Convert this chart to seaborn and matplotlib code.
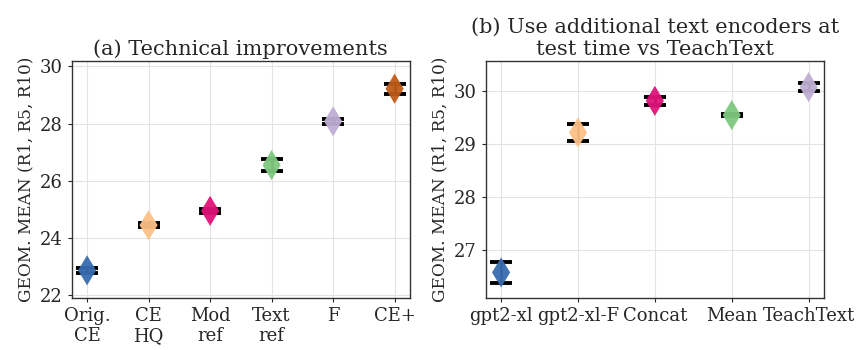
import matplotlib
matplotlib.use("Agg")
import matplotlib.pyplot as plt
import seaborn as sns
import numpy as np

# === Data ===
labels_a = ["Orig.\nCE", "CE\nHQ", "Mod\nref", "Text\nref", "F", "CE+"]
means_a = [22.87, 24.45, 24.95, 26.55, 28.08, 29.22]
errs_a = [0.08, 0.07, 0.06, 0.20, 0.09, 0.17]

labels_b = ["gpt2-xl", "gpt2-xl-F", "Concat", "Mean", "TeachText"]
means_b = [26.57, 29.22, 29.82, 29.55, 30.08]
errs_b = [0.20, 0.17, 0.07, 0.02, 0.08]

colors_a = ["#386cb0", "#fdc086", "#e0137a", "#7fc97f", "#beaed4", "#bf5b17"]
colors_b = ["#386cb0", "#fdc086", "#e0137a", "#7fc97f", "#beaed4"]

# === Style ===
sns.set_theme(style="ticks", rc={"axes.grid": True, "grid.color": "#e3e3e3",
                                 "grid.linewidth": 0.8, "axes.edgecolor": "#333333",
                                 "axes.linewidth": 1.0})
plt.rcParams["font.family"] = ["DejaVu Serif"]

fig = plt.figure(figsize=(8.62, 3.5), dpi=100)
ax1 = fig.add_axes([71.7 / 862, 1 - 297.5 / 350, (410 - 71.7) / 862, (297.5 - 60.7) / 350])
ax2 = fig.add_axes([485.7 / 862, 1 - 298.3 / 350, (824 - 485.7) / 862, (298.3 - 60.7) / 350])


def draw(ax, labels, means, errs, colors, title, ylim, xlim):
    x = np.arange(len(labels))
    ax.errorbar(x, means, yerr=errs, fmt="none", ecolor="black", elinewidth=2,
                capsize=8, capthick=2.8, zorder=2)
    sns.scatterplot(x=labels, y=means, hue=labels, palette=colors, marker="d",
                    s=235, edgecolor="none", alpha=0.95, legend=False, ax=ax, zorder=3)
    ax.set_xlim(*xlim)
    ax.set_ylim(*ylim)
    ax.set_title(title, fontsize=15, pad=4)
    ax.set_ylabel("GEOM. MEAN (R1, R5, R10)", fontsize=12.2)
    ax.tick_params(axis="both", labelsize=13, length=3, width=0.8)
    ax.set_axisbelow(True)


draw(ax1, labels_a, means_a, errs_a, colors_a, "(a) Technical improvements",
     (21.92, 30.2), (-0.25, 5.25))
draw(ax2, labels_b, means_b, errs_b, colors_b,
     "(b) Use additional text encoders at\ntest time vs TeachText",
     (26.08, 30.58), (-0.2, 4.2))
ax1.set_yticks([22, 24, 26, 28, 30])
ax2.set_yticks([27, 28, 29, 30])

plt.savefig("out.png", dpi=100)
plt.close()
